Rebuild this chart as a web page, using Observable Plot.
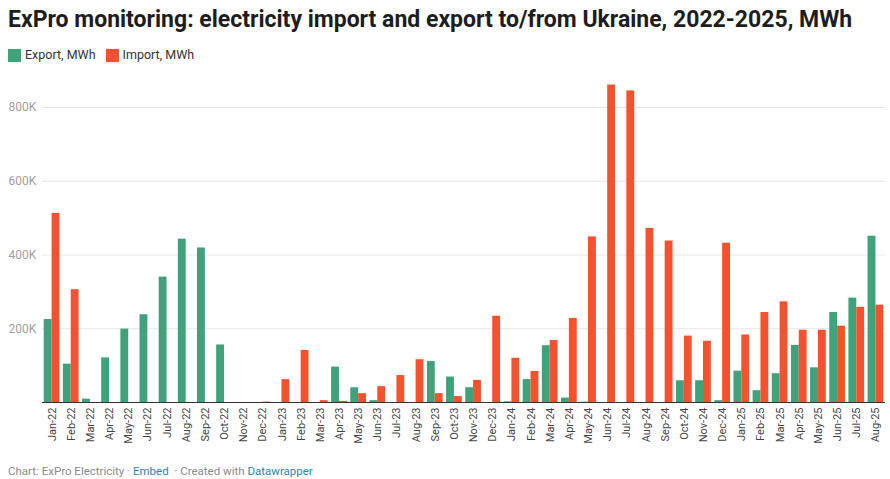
<!DOCTYPE html>
<html>
<head>
<meta charset="utf-8">
<script src="https://cdn.jsdelivr.net/npm/d3@7"></script>
<script src="https://cdn.jsdelivr.net/npm/@observablehq/plot@0.6"></script>
<style>
  html, body { margin: 0; padding: 0; background: #fff; }
  body { width: 890px; height: 479px; position: relative; font-family: Roboto, "Noto Sans", sans-serif; overflow: hidden; }
  #title { position: absolute; left: 8px; top: 6px; font-size: 23px; font-weight: 700; color: #1d1d1d; line-height: 28px; white-space: nowrap; }
  #legend { position: absolute; left: 8px; top: 47px; font-size: 12.5px; color: #333; line-height: 16px; display: flex; align-items: center; }
  .item { display: flex; align-items: center; margin-right: 10px; }
  .sw { width: 13px; height: 13px; margin-right: 4px; display: inline-block; }
  #chart { position: absolute; left: 0; top: 80px; }
  #footer { position: absolute; left: 8px; top: 464px; font-size: 11.5px; color: #8a8a8a; line-height: 14px; white-space: nowrap; }
  #footer .lnk { color: #2a86b5; }
</style>
</head>
<body>
<div id="title">ExPro monitoring: electricity import and export to/from Ukraine, 2022-2025, MWh</div>
<div id="legend"></div>
<div id="chart"></div>
<div id="footer">Chart: ExPro Electricity · <span class="lnk">Embed</span> &nbsp;· Created with <span class="lnk">Datawrapper</span></div>
<script>
const months = [
  "Jan-22","Feb-22","Mar-22","Apr-22","May-22","Jun-22","Jul-22","Aug-22","Sep-22","Oct-22","Nov-22","Dec-22",
  "Jan-23","Feb-23","Mar-23","Apr-23","May-23","Jun-23","Jul-23","Aug-23","Sep-23","Oct-23","Nov-23","Dec-23",
  "Jan-24","Feb-24","Mar-24","Apr-24","May-24","Jun-24","Jul-24","Aug-24","Sep-24","Oct-24","Nov-24","Dec-24",
  "Jan-25","Feb-25","Mar-25","Apr-25","May-25","Jun-25","Jul-25","Aug-25"
];
const exportMWh = [
  225000,104000,9000,121000,199000,238000,340000,443000,419000,156000,0,0,
  0,0,0,96000,40000,5000,0,0,111000,69000,40000,0,
  2000,62000,154000,12000,1000,0,0,0,0,59000,59000,5000,
  85000,32000,78000,155000,94000,244000,283000,451000
];
const importMWh = [
  513000,306000,0,0,0,0,0,0,0,0,0,1000,
  62000,141000,5000,3000,24000,43000,73000,116000,24000,16000,60000,234000,
  120000,84000,168000,228000,449000,861000,845000,472000,438000,180000,166000,432000,
  183000,244000,273000,196000,196000,207000,258000,264000
];
const seriesNames = ["Export, MWh", "Import, MWh"];
const seriesColors = ["#3fa27a", "#f4512f"];
const yTicks = [200000, 400000, 600000, 800000];

const rows = months.map((m, i) => ({month: m, exp: exportMWh[i], imp: importMWh[i]}));

// legend
const legend = document.getElementById("legend");
seriesNames.forEach((n, i) => {
  const it = document.createElement("span");
  it.className = "item";
  it.innerHTML = `<span class="sw" style="background:${seriesColors[i]}"></span>${n}`;
  legend.appendChild(it);
});

const W = 890, ML = 42, MR = 5, PI = 0.18, PO = 0.09;
// same band geometry as the Plot x scale, used to split each month band in two
const band = d3.scaleBand().domain(months).range([ML, W - MR]).paddingInner(PI).paddingOuter(PO);
const half = band.bandwidth() / 2;

const chart = Plot.plot({
  width: W,
  height: 375,
  marginTop: 27,
  marginBottom: 53,
  marginLeft: ML,
  marginRight: MR,
  style: {fontFamily: "Roboto, sans-serif", color: "#444", background: "transparent"},
  x: {domain: months, paddingInner: PI, paddingOuter: PO, round: false, axis: null},
  y: {domain: [0, 800000], axis: null},
  marks: [
    Plot.ruleY(yTicks, {stroke: "#e6e6e6", strokeWidth: 1}),
    Plot.text(yTicks, {y: d => d, text: d => d / 1000 + "K", frameAnchor: "left", textAnchor: "start", dx: -34, fill: "#a0a0a0", fontSize: 12}),
    Plot.barY(rows, {x: "month", y: "exp", fill: seriesColors[0], insetLeft: 0, insetRight: half}),
    Plot.barY(rows, {x: "month", y: "imp", fill: seriesColors[1], insetLeft: half, insetRight: 0}),
    Plot.ruleY([0], {stroke: "#333", strokeWidth: 1.2}),
    Plot.axisX({tickRotate: -90, tickSize: 0, tickPadding: 5, fontSize: 11, label: null})
  ]
});
document.getElementById("chart").appendChild(chart);
</script>
</body>
</html>
